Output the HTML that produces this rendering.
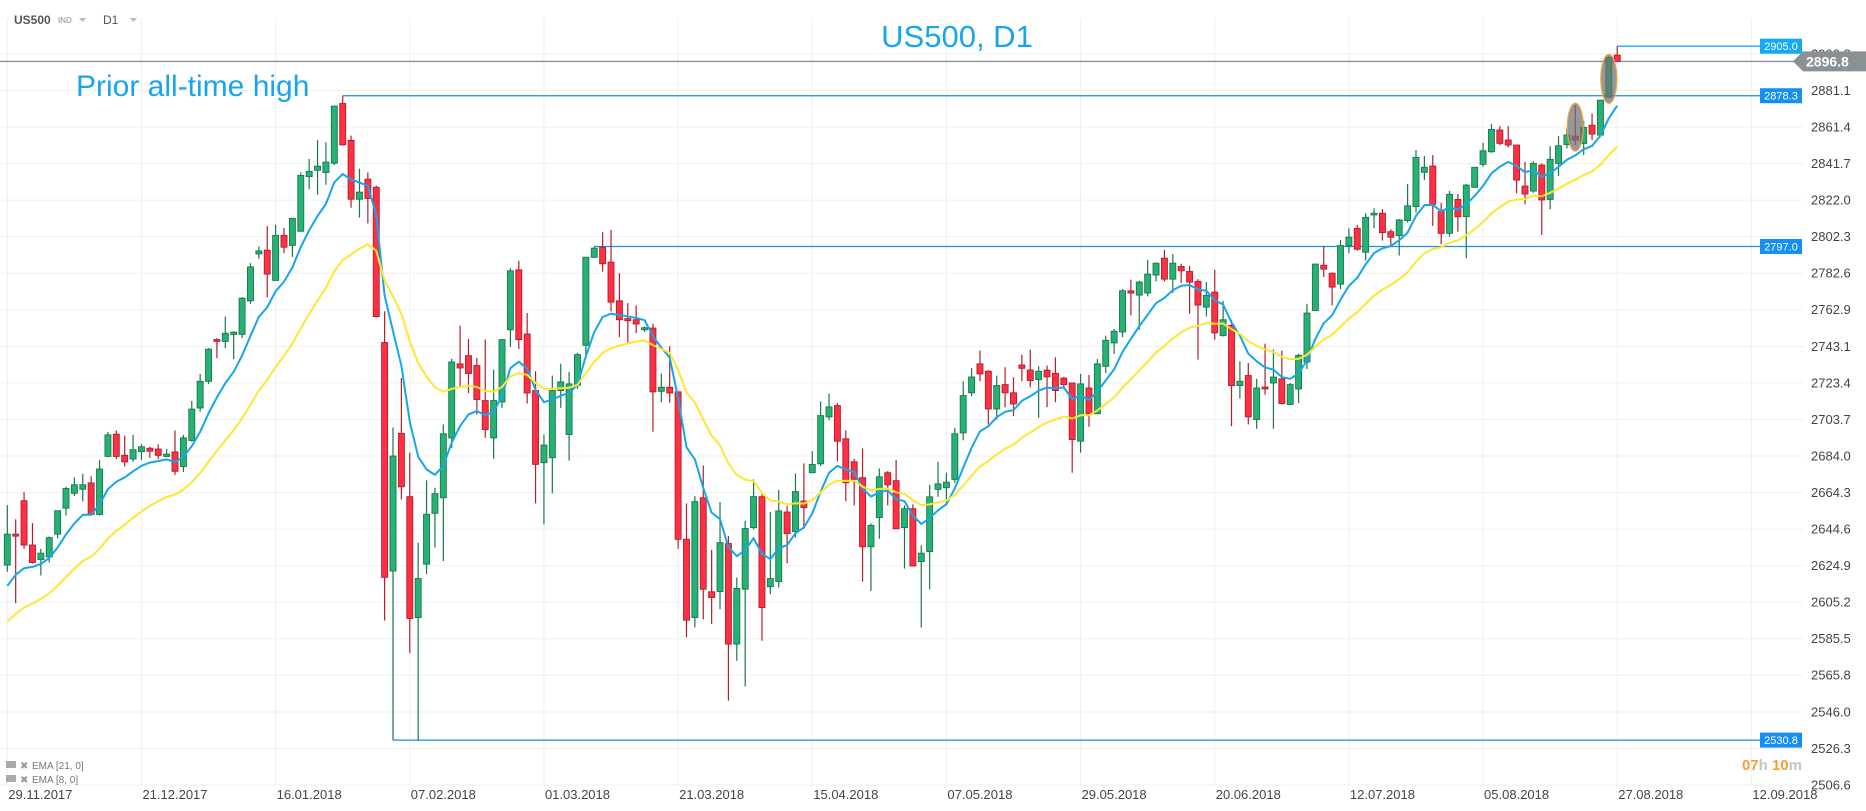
<!DOCTYPE html>
<html><head><meta charset="utf-8">
<style>
html,body{margin:0;padding:0;background:#fff;}
svg{display:block;font-family:"Liberation Sans",sans-serif;}
</style></head>
<body>
<svg id="chart" width="1866" height="811" viewBox="0 0 1866 811" xmlns="http://www.w3.org/2000/svg">
  <g id="grid"></g>
  <g id="levels"></g>
  <g id="candles"></g>
  <g id="emas"></g>
  <g id="marks"></g>
  <g id="axes"></g>
  <g>
    <text x="14" y="24" font-size="12" font-weight="bold" fill="#555">US500</text>
    <text x="58" y="23" font-size="8" font-weight="bold" fill="#aab0b8">IND</text>
    <path d="M79 18 L86 18 L82.5 22 Z" fill="#bbb"/>
    <text x="103" y="24" font-size="12" fill="#555">D1</text>
    <path d="M130 18 L137 18 L133.5 22 Z" fill="#bbb"/>
  </g>
  <text x="957" y="47" font-size="31" fill="#17a6ec" text-anchor="middle">US500, D1</text>
  <text x="76" y="96" font-size="30" fill="#17a6ec">Prior all-time high</text>
  <g>
    <rect x="6" y="761" width="10" height="7" fill="#aaa"/>
    <text x="20" y="769" font-size="10" fill="#999">✖</text>
    <text x="32" y="769" font-size="10" fill="#777">EMA  [21, 0]</text>
    <rect x="6" y="775" width="10" height="7" fill="#aaa"/>
    <text x="20" y="783" font-size="10" fill="#999">✖</text>
    <text x="32" y="783" font-size="10" fill="#777">EMA  [8, 0]</text>
  </g>
  <text x="1802" y="770" font-size="15" font-weight="bold" text-anchor="end"><tspan fill="#f7a030">07</tspan><tspan fill="#c4c4c4">h </tspan><tspan fill="#f7a030">10</tspan><tspan fill="#c4c4c4">m</tspan></text>
</svg>
<script>
const dateLabels = ["29.11.2017","21.12.2017","16.01.2018","07.02.2018","01.03.2018","21.03.2018","15.04.2018","07.05.2018","29.05.2018","20.06.2018","12.07.2018","05.08.2018","27.08.2018","12.09.2018"];
const priceTicks = [2900.8,2881.1,2861.4,2841.7,2822.0,2802.3,2782.6,2762.9,2743.1,2723.4,2703.7,2684.0,2664.3,2644.6,2624.9,2605.2,2585.5,2565.8,2546.0,2526.3,2506.6];
const opens = [2625.2,2641.9,2659.9,2636.0,2628.2,2629.6,2641.9,2655.9,2663.9,2666.1,2669.5,2652.5,2683.8,2695.8,2684.4,2682.4,2686.4,2688.2,2687.8,2683.8,2686.2,2678.4,2692.4,2709.9,2724.3,2746.8,2745.8,2749.6,2749.6,2767.7,2793.0,2795.0,2778.7,2803.0,2797.6,2805.2,2834.7,2838.1,2836.9,2841.9,2874.1,2854.2,2822.5,2833.3,2828.9,2745.2,2622.0,2696.2,2662.1,2596.9,2625.7,2653.1,2661.5,2693.8,2733.7,2738.1,2732.8,2713.9,2693.8,2713.2,2752.1,2784.4,2749.8,2719.3,2680.4,2683.1,2719.3,2695.6,2722.2,2743.7,2791.2,2796.6,2788.6,2767.7,2758.1,2757.5,2752.1,2753.0,2718.9,2721.1,2718.6,2639.1,2596.9,2661.5,2610.8,2610.9,2636.8,2582.6,2612.2,2645.4,2662.1,2613.5,2616.3,2653.8,2643.2,2659.7,2675.0,2679.8,2705.1,2711.2,2693.3,2680.9,2672.3,2635.1,2650.8,2675.0,2670.7,2645.4,2655.6,2627.1,2632.5,2666.0,2666.9,2671.4,2696.5,2718.1,2733.7,2729.7,2709.4,2722.5,2718.1,2733.1,2730.4,2725.2,2730.3,2728.6,2726.0,2723.4,2692.0,2720.7,2706.8,2732.4,2745.0,2750.9,2773.1,2770.8,2771.9,2781.6,2790.7,2779.4,2786.2,2783.5,2778.2,2764.3,2772.4,2748.9,2754.4,2722.0,2727.4,2703.7,2721.2,2723.4,2725.6,2711.8,2720.2,2734.7,2762.5,2786.9,2782.6,2776.7,2797.5,2806.8,2793.9,2814.0,2814.9,2805.0,2802.9,2811.0,2818.5,2837.0,2840.4,2815.8,2804.1,2822.4,2813.1,2828.9,2841.3,2848.1,2859.8,2854.4,2851.7,2829.6,2826.9,2840.9,2822.4,2841.8,2852.0,2856.5,2852.6,2862.4,2857.1,2877.4,2900.2];
const highs = [2657.5,2649.9,2664.5,2647.9,2634.0,2640.6,2654.5,2667.5,2672.5,2674.4,2673.1,2681.8,2697.0,2697.8,2695.0,2695.4,2690.4,2689.0,2690.4,2687.8,2697.8,2695.4,2713.7,2728.3,2742.2,2747.6,2759.2,2751.2,2769.7,2788.0,2797.0,2808.0,2808.6,2807.0,2812.2,2836.9,2844.2,2854.4,2853.2,2872.7,2878.3,2856.8,2838.9,2836.9,2829.9,2762.1,2699.4,2726.1,2685.8,2637.3,2670.9,2666.9,2701.0,2736.5,2754.3,2747.1,2736.9,2746.8,2730.6,2746.8,2785.3,2789.3,2761.1,2729.7,2695.6,2727.4,2733.8,2729.4,2739.6,2791.2,2797.0,2804.7,2806.0,2782.6,2766.5,2765.2,2753.9,2755.4,2728.5,2743.2,2718.9,2658.5,2662.4,2678.9,2633.4,2659.2,2640.9,2618.5,2649.0,2671.4,2663.3,2653.8,2665.7,2657.1,2674.6,2680.0,2686.6,2713.5,2717.7,2712.6,2697.9,2682.5,2688.1,2647.7,2677.3,2675.9,2681.8,2657.4,2657.9,2635.9,2668.5,2680.9,2675.0,2699.2,2724.3,2731.5,2740.9,2730.3,2727.4,2731.9,2726.5,2738.7,2741.4,2732.4,2732.8,2737.3,2726.7,2723.4,2728.3,2727.7,2736.3,2748.9,2752.5,2774.0,2779.1,2778.5,2789.8,2788.4,2795.2,2793.0,2787.7,2786.6,2779.4,2777.8,2784.4,2767.7,2757.5,2735.1,2734.2,2725.6,2744.6,2741.4,2740.8,2723.4,2739.2,2766.1,2787.6,2797.3,2783.0,2800.5,2806.8,2808.6,2814.9,2817.6,2817.2,2806.3,2811.8,2830.7,2849.0,2845.8,2846.3,2820.6,2826.9,2825.3,2830.7,2839.7,2852.9,2863.0,2861.9,2861.9,2851.7,2842.7,2843.1,2841.8,2851.1,2856.5,2860.6,2873.2,2864.8,2868.7,2875.9,2899.5,2905.0];
const lows = [2621.6,2604.7,2634.0,2626.0,2619.6,2626.6,2639.6,2651.9,2662.5,2659.5,2651.9,2651.9,2683.4,2682.4,2678.4,2680.8,2681.8,2683.0,2682.4,2683.4,2673.8,2675.4,2691.8,2707.9,2722.9,2736.8,2742.2,2736.2,2747.6,2766.1,2790.4,2769.5,2778.7,2793.4,2791.4,2805.2,2827.9,2824.9,2830.3,2840.9,2851.4,2817.9,2812.6,2809.4,2758.8,2595.3,2530.8,2660.6,2577.8,2530.8,2620.3,2634.6,2627.4,2688.4,2721.6,2718.0,2706.4,2693.8,2682.5,2710.0,2742.8,2741.7,2712.3,2658.5,2647.2,2663.9,2710.0,2681.6,2720.2,2737.8,2790.7,2783.5,2762.0,2748.2,2745.3,2750.3,2750.9,2697.1,2713.0,2712.7,2634.1,2586.2,2591.6,2596.0,2593.4,2601.4,2552.1,2573.6,2559.8,2644.5,2584.4,2609.5,2613.1,2626.2,2640.0,2645.4,2675.0,2678.6,2703.3,2681.2,2659.7,2657.4,2616.3,2611.3,2639.4,2657.4,2644.8,2623.3,2624.4,2591.5,2612.2,2662.0,2657.4,2669.6,2692.5,2716.3,2724.3,2701.0,2703.7,2710.3,2705.5,2724.3,2721.1,2704.6,2710.3,2713.0,2721.1,2675.0,2685.8,2699.8,2706.8,2728.8,2739.0,2748.2,2759.9,2752.1,2770.1,2778.2,2778.2,2771.9,2777.3,2760.8,2736.0,2759.3,2746.8,2748.5,2700.1,2715.0,2701.0,2698.7,2717.1,2698.7,2711.8,2711.8,2712.6,2730.9,2762.5,2780.5,2765.2,2774.0,2793.4,2794.8,2789.4,2806.8,2800.2,2797.9,2792.1,2809.9,2815.3,2832.8,2808.1,2798.2,2802.3,2805.0,2790.7,2828.9,2840.0,2847.5,2851.7,2850.4,2825.7,2819.7,2826.0,2803.2,2817.1,2835.0,2849.9,2851.7,2846.3,2854.4,2857.1,2877.4,2896.6];
const closes = [2641.9,2640.8,2636.0,2626.6,2631.6,2640.0,2654.5,2666.5,2668.5,2668.5,2652.5,2677.0,2695.4,2683.8,2680.8,2687.4,2689.0,2686.6,2684.4,2685.0,2675.8,2693.8,2709.3,2724.3,2741.6,2745.8,2750.2,2750.8,2769.1,2786.0,2794.6,2782.1,2803.0,2796.6,2812.2,2835.3,2837.5,2840.3,2842.5,2872.7,2851.8,2822.5,2826.3,2822.9,2759.2,2618.6,2684.0,2667.4,2596.4,2617.9,2652.6,2663.7,2696.0,2734.7,2731.5,2728.5,2714.5,2698.3,2713.9,2746.8,2783.9,2746.8,2718.0,2679.5,2689.9,2719.3,2724.0,2722.9,2738.7,2791.2,2796.1,2787.7,2767.0,2757.5,2757.0,2755.2,2753.2,2718.6,2721.1,2718.0,2639.1,2595.5,2659.4,2612.2,2607.7,2637.3,2582.6,2612.6,2644.9,2662.1,2602.3,2617.9,2654.4,2642.2,2664.8,2656.2,2679.5,2705.8,2710.5,2692.0,2669.6,2671.4,2635.1,2646.6,2672.8,2668.5,2644.8,2655.6,2624.7,2631.6,2662.0,2669.0,2669.9,2696.0,2716.6,2726.6,2728.3,2709.4,2722.0,2718.1,2712.1,2731.3,2724.7,2729.7,2726.7,2719.3,2722.5,2692.9,2722.9,2706.8,2733.7,2746.4,2751.3,2773.1,2771.9,2777.8,2782.1,2788.0,2779.4,2788.0,2783.9,2777.8,2765.4,2770.6,2750.4,2757.5,2722.0,2724.3,2705.1,2720.7,2720.2,2726.6,2712.3,2722.5,2738.3,2761.1,2787.5,2784.8,2775.1,2797.5,2802.0,2795.5,2812.7,2814.9,2804.5,2802.0,2811.3,2818.9,2845.0,2839.7,2819.7,2804.1,2825.1,2813.1,2830.1,2839.7,2848.6,2860.1,2852.6,2851.7,2832.8,2825.3,2841.8,2822.1,2844.0,2851.3,2857.1,2854.4,2861.2,2857.6,2875.9,2898.9,2896.8];
const emaSeeds = [2606.0, 2590.0];
const emaPeriods = [8, 21];
const levelPrices = [2905.0, 2878.3, 2797.0, 2530.8];
const levelStartBars = [192, 40, 70, 46];
const highlightBars = [187, 191];
const currentPrice = 2896.8;

const NS = "http://www.w3.org/2000/svg";
const X0 = 7.3, BAR = 8.385;
const PTOP = 2900.8, YTOP = 54, PXPERPT = 1.8544;
function x(i){ return X0 + i*BAR; }
function y(p){ return YTOP + (PTOP - p)*PXPERPT; }
function mk(tag, attrs, parent){
  const e = document.createElementNS(NS, tag);
  for (const k in attrs) e.setAttribute(k, attrs[k]);
  parent.appendChild(e);
  return e;
}
const grid = document.getElementById('grid');
const axes = document.getElementById('axes');
priceTicks.forEach(function(p){
  const l = mk('line', {x1:0, x2:1803, y1:y(p), y2:y(p), stroke:'#f0f0f0', 'stroke-width':1}, grid);
  
  
  const t = mk('text', {x:1811, y:y(p)+4.5, 'font-size':13, fill:'#444'}, axes);
  t.textContent = p.toFixed(1);
  
  
});
dateLabels.forEach(function(d, k){
  const xx = x(k*16);
  const l = mk('line', {x1:xx, x2:xx, y1:18, y2:786, stroke:'#f0f0f0', 'stroke-width':1}, grid);
  
  
  const t = mk('text', {x:xx+1, y:799, 'font-size':13, fill:'#444'}, axes);
  t.textContent = d;
  
  
});
// current price line
const cpl = mk('line', {x1:0, x2:1795, y1:y(currentPrice), y2:y(currentPrice), stroke:'#8a9196', 'stroke-width':1.3}, document.getElementById('levels'));


// levels
const lv = document.getElementById('levels');
levelPrices.forEach(function(p, k){
  const yy = y(p);
  const l = mk('line', {x1:x(levelStartBars[k]), x2:1760, y1:yy, y2:yy, stroke: k===0 ? '#14aaf0' : '#1a8fe8', 'stroke-width':1.3}, lv);
  
  
  const r = mk('rect', {x:1760, y:yy-7.5, width:42, height:15, fill: k===0 ? '#12aaf2' : '#1690f0'}, axes);
  
  
  const t = mk('text', {x:1781, y:yy+4, 'font-size':11, fill:'#fff', 'text-anchor':'middle'}, axes);
  t.textContent = p.toFixed(1);
  
  
});
// current price tag
const cy = y(currentPrice);
const tag = mk('polygon', {points:(1793)+','+cy+' '+1803+','+(cy-10)+' 1866,'+(cy-10)+' 1866,'+(cy+10)+' 1803,'+(cy+10), fill:'#8a9196'}, axes);


const tt = mk('text', {x:1806, y:cy+5, 'font-size':14, 'font-weight':'bold', fill:'#fff'}, axes);
tt.textContent = currentPrice.toFixed(1);


// candles
const cg = document.getElementById('candles');
for (let i = 0; i < closes.length; i++){
  const up = closes[i] >= opens[i];
  const stroke = up ? '#18784b' : '#b01f2e';
  const fill = up ? '#27b275' : '#ff2f44';
  const xx = x(i);
  const w = mk('line', {x1:xx, x2:xx, y1:y(highs[i]), y2:y(lows[i]), stroke:stroke, 'stroke-width':1.2}, cg);
  
  
  const top = y(Math.max(opens[i], closes[i]));
  const h = Math.max(1.5, Math.abs(y(opens[i]) - y(closes[i])));
  const b = mk('rect', {x:xx-3, y:top, width:6, height:h, fill:fill, stroke:stroke, 'stroke-width':0.9}, cg);
  
  
}
// EMAs
const eg = document.getElementById('emas');
const emaColors = ['#16a6ec', '#ffe633'];
emaPeriods.forEach(function(n, k){
  const a = 2/(n+1);
  let e = emaSeeds[k];
  const pts = [];
  for (let i = 0; i < closes.length; i++){
    e = e + a*(closes[i] - e);
    pts.push(x(i).toFixed(1) + ',' + y(e).toFixed(1));
  }
  const pl = mk('polyline', {points:pts.join(' '), fill:'none', stroke:emaColors[k], 'stroke-width':2, 'stroke-linejoin':'round'}, eg);
  
  
});
// highlights
const mg = document.getElementById('marks');
highlightBars.forEach(function(i){
  const top = y(highs[i]) - 2, bot = y(lows[i]) + 6;
  const el = mk('ellipse', {cx:x(i), cy:(top+bot)/2, rx:8, ry:(bot-top)/2, fill:'rgba(110,112,115,0.72)', stroke:'#f3a43a', 'stroke-width':1.2}, mg);
  
  
});
</script>
</body></html>
